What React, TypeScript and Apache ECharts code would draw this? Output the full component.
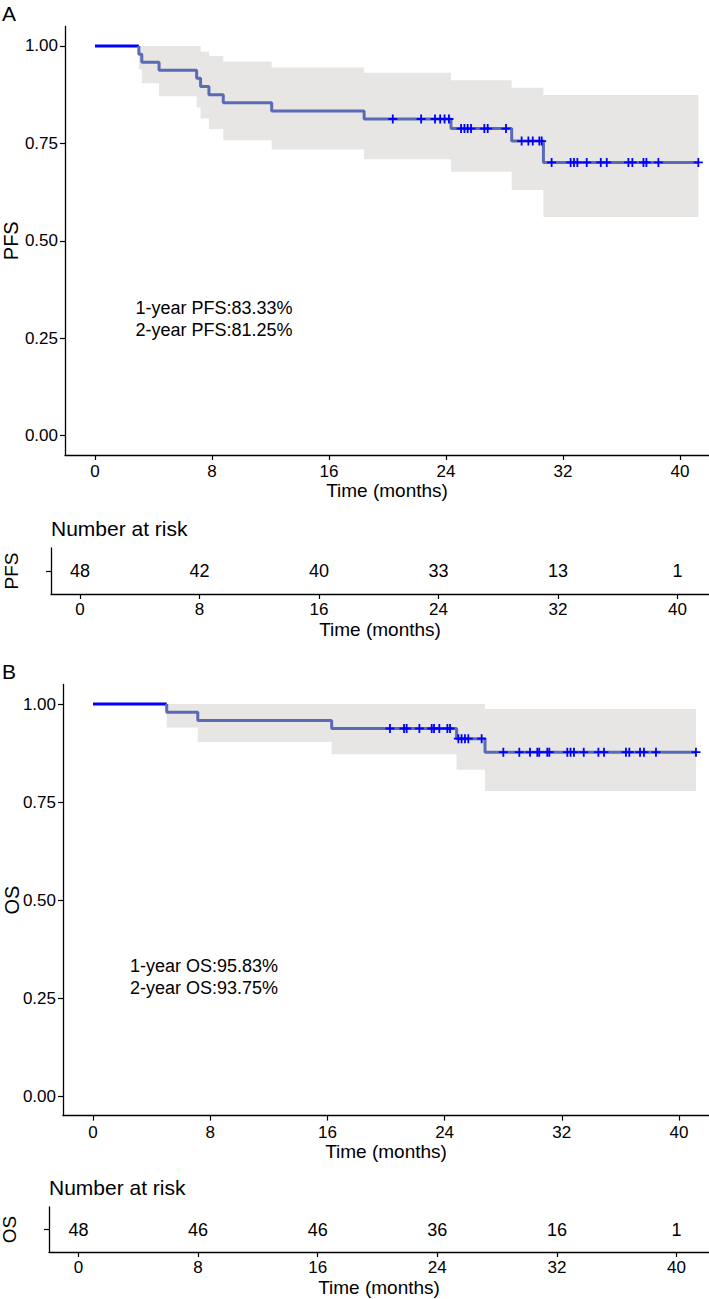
import React, { useEffect, useRef } from "react";
import * as echarts from "echarts";

const FONT = "'Liberation Sans', Arial, Helvetica, sans-serif";

const xTicks = [0, 8, 16, 24, 32, 40];
const yTicks = [0, 0.25, 0.5, 0.75, 1];

// PFS Kaplan-Meier (step start times, survival, CI)
const pfsTimes = [0, 3.0, 3.2, 4.38, 6.95, 7.22, 7.79, 8.77, 12.08, 18.4, 24.34, 28.49, 30.66];
const pfsSurv = [1, 0.979, 0.958, 0.9375, 0.917, 0.896, 0.875, 0.854, 0.833, 0.8125, 0.788, 0.756, 0.701];
const pfsUpper = [1, 1, 1, 1, 1, 0.985, 0.974, 0.96, 0.945, 0.931, 0.912, 0.893, 0.874];
const pfsLower = [1, 0.94, 0.904, 0.871, 0.842, 0.814, 0.786, 0.758, 0.734, 0.709, 0.677, 0.63, 0.561];
const pfsEnd = 41.25;
const pfsCensor = [20.36, 22.3, 23.25, 23.6, 23.9, 24.2, 25.03, 25.26, 25.48, 25.71, 26.62, 26.85, 28.1,
  29.17, 29.63, 29.93, 30.38, 30.54, 31.22, 32.52, 32.75, 32.98, 33.62, 34.58, 34.99, 36.47, 36.74,
  37.5, 37.7, 38.52, 41.25];
const pfsRisk = [48, 42, 40, 33, 13, 1];

// OS Kaplan-Meier
const osTimes = [0, 5.03, 7.15, 16.29, 24.82, 26.76];
const osSurv = [1, 0.979, 0.958, 0.9375, 0.9115, 0.877];
const osUpper = [1, 1, 1, 1, 1, 0.987];
const osLower = [1, 0.94, 0.903, 0.872, 0.832, 0.778];
const osEnd = 41.16;
const osCensor = [20.27, 21.23, 21.41, 22.28, 23.12, 23.28, 23.64, 24.19, 24.37, 24.94, 25.16, 25.39,
  25.62, 26.53, 28.01, 29.1, 29.83, 30.33, 30.46, 31.01, 31.15, 32.38, 32.6, 32.83, 33.5, 34.5, 34.88,
  36.38, 36.61, 37.34, 37.61, 38.43, 41.16];
const osRisk = [48, 46, 46, 36, 16, 1];

const pfsNotes = ["1-year PFS:83.33%", "2-year PFS:81.25%"];
const osNotes = ["1-year OS:95.83%", "2-year OS:93.75%"];

const LINE_BLUE = "#0000ff";
const LINE_MIX = "#5a6ab4";
const BAND = "#e7e6e5";
const PLUS = "path://M4,0H6V4H10V6H6V10H4V6H0V4H4Z";

function survAt(times: number[], surv: number[], t: number) {
  let v = surv[0];
  for (let i = 0; i < times.length; i++) if (times[i] <= t) v = surv[i];
  return v;
}

function steps(times: number[], vals: number[], end: number) {
  const pts: number[][] = [];
  for (let i = 0; i < times.length; i++) {
    pts.push([times[i], vals[i]]);
    pts.push([i + 1 < times.length ? times[i + 1] : end, vals[i]]);
  }
  return pts;
}

function bandPoly(times: number[], upper: number[], lower: number[], end: number) {
  const up = steps(times.slice(1), upper.slice(1), end);
  const lo = steps(times.slice(1), lower.slice(1), end).reverse();
  return up.concat(lo);
}

function xAxisCfg(gridIndex: number, min: number, max: number, labelMargin: number, nameGap: number) {
  return {
    type: "value",
    gridIndex,
    min,
    max,
    axisLine: { show: true, onZero: false, lineStyle: { color: "#000", width: 1.3 } },
    axisTick: { show: true, customValues: xTicks, length: 5, lineStyle: { color: "#000", width: 1.2 } },
    axisLabel: { customValues: xTicks, margin: labelMargin, fontSize: 17, color: "#000", fontFamily: FONT },
    splitLine: { show: false },
    name: "Time (months)",
    nameLocation: "middle",
    nameGap,
    nameMoveOverlap: false,
    nameTextStyle: { fontSize: 19, color: "#000", fontFamily: FONT },
  };
}

function yMainCfg(gridIndex: number, name: string, gap: number) {
  return {
    type: "value",
    gridIndex,
    min: -0.05,
    max: 1.05,
    axisLine: { show: true, onZero: false, lineStyle: { color: "#000", width: 1.3 } },
    axisTick: { show: true, customValues: yTicks, length: 5, lineStyle: { color: "#000", width: 1.2 } },
    axisLabel: {
      customValues: yTicks,
      margin: 7,
      fontSize: 17,
      color: "#000",
      fontFamily: FONT,
      formatter: (v: number) => v.toFixed(2),
    },
    splitLine: { show: false },
    name,
    nameLocation: "middle",
    nameRotate: 90,
    nameGap: gap,
    nameMoveOverlap: false,
    nameTextStyle: { fontSize: 20, color: "#000", fontFamily: FONT },
  };
}

function yRiskCfg(gridIndex: number, name: string) {
  return {
    type: "value",
    gridIndex,
    min: 0,
    max: 1,
    axisLine: { show: true, onZero: false, lineStyle: { color: "#000", width: 1.3 } },
    axisTick: { show: true, customValues: [0.5], length: 5, lineStyle: { color: "#000", width: 1.2 } },
    axisLabel: { show: false },
    splitLine: { show: false },
    name,
    nameLocation: "middle",
    nameRotate: 90,
    nameGap: 30,
    nameMoveOverlap: false,
    nameTextStyle: { fontSize: 19, color: "#000", fontFamily: FONT },
  };
}

function kmSeries(idx: number, times: number[], surv: number[], upper: number[], lower: number[], end: number, censor: number[]) {
  const poly = bandPoly(times, upper, lower, end);
  const all = steps(times, surv, end);
  const first = all.slice(0, 2);
  const rest = all.slice(1);
  return [
    {
      type: "custom",
      xAxisIndex: idx,
      yAxisIndex: idx,
      z: 1,
      silent: true,
      data: [[0, 0]],
      renderItem: (_p: any, api: any) => ({
        type: "polygon",
        shape: { points: poly.map((p) => api.coord(p)) },
        style: { fill: BAND },
      }),
    },
    {
      type: "line",
      xAxisIndex: idx,
      yAxisIndex: idx,
      z: 2,
      data: first,
      symbol: "none",
      lineStyle: { color: LINE_BLUE, width: 3 },
    },
    {
      type: "line",
      xAxisIndex: idx,
      yAxisIndex: idx,
      z: 2,
      data: rest,
      symbol: "none",
      lineStyle: { color: LINE_MIX, width: 3 },
    },
    {
      type: "scatter",
      xAxisIndex: idx,
      yAxisIndex: idx,
      z: 3,
      symbol: PLUS,
      symbolSize: 9,
      itemStyle: { color: LINE_BLUE, opacity: 1 },
      data: censor.map((t) => [t, survAt(times, surv, t)]),
    },
  ];
}

function riskSeries(idx: number, risk: number[]) {
  return {
    type: "scatter",
    xAxisIndex: idx,
    yAxisIndex: idx,
    symbolSize: 1,
    itemStyle: { color: "rgba(255,255,255,0)", opacity: 1 },
    label: {
      show: true,
      position: "inside",
      fontSize: 18,
      color: "#000",
      opacity: 1,
      fontFamily: FONT,
      formatter: (p: any) => String(p.value[2]),
    },
    data: xTicks.map((t, i) => [t, 0.5, risk[i]]),
  };
}

function textEl(x: number, y: number, text: string, size: number, align: string) {
  return {
    type: "text",
    x,
    y,
    style: { text, fontSize: size, fontFamily: FONT, fill: "#000", align, verticalAlign: "middle" },
  };
}

export default function App() {
  const ref = useRef<HTMLDivElement>(null);
  useEffect(() => {
    if (!ref.current) return;
    const chart = echarts.init(ref.current, null, { renderer: "svg" });
    const option: any = {
      animation: false,
      backgroundColor: "#fff",
      grid: [
        { left: 65, top: 26.5, right: 0, height: 428.5, outerBoundsMode: "none", containLabel: false },
        { left: 51, top: 548, right: 0, height: 46, outerBoundsMode: "none", containLabel: false },
        { left: 63, top: 684.4, right: 0, height: 431.2, outerBoundsMode: "none", containLabel: false },
        { left: 49, top: 1207, right: 0, height: 45, outerBoundsMode: "none", containLabel: false },
      ],
      xAxis: [
        xAxisCfg(0, -2.05, 41.98, 8, 26),
        xAxisCfg(1, -1.94, 42.11, 7, 26),
        xAxisCfg(2, -2.05, 42.05, 8, 26),
        xAxisCfg(3, -1.97, 42.17, 7, 26),
      ],
      yAxis: [yMainCfg(0, "PFS", 44), yRiskCfg(1, "PFS"), yMainCfg(2, "OS", 41), yRiskCfg(3, "OS")],
      series: [
        ...kmSeries(0, pfsTimes, pfsSurv, pfsUpper, pfsLower, pfsEnd, pfsCensor),
        riskSeries(1, pfsRisk),
        ...kmSeries(2, osTimes, osSurv, osUpper, osLower, osEnd, osCensor),
        riskSeries(3, osRisk),
      ],
      graphic: [
        textEl(2, 13, "A", 21, "left"),
        textEl(2, 671, "B", 21, "left"),
        textEl(51, 528, "Number at risk", 21, "left"),
        textEl(49, 1187, "Number at risk", 21, "left"),
        textEl(214, 308, pfsNotes[0], 18, "center"),
        textEl(214, 330, pfsNotes[1], 18, "center"),
        textEl(204, 966, osNotes[0], 18, "center"),
        textEl(204, 988, osNotes[1], 18, "center"),
      ],
    };
    chart.setOption(option);
    return () => chart.dispose();
  }, []);
  return <div ref={ref} style={{ position: "absolute", left: 0, top: 0, width: 709, height: 1299 }} />;
}
